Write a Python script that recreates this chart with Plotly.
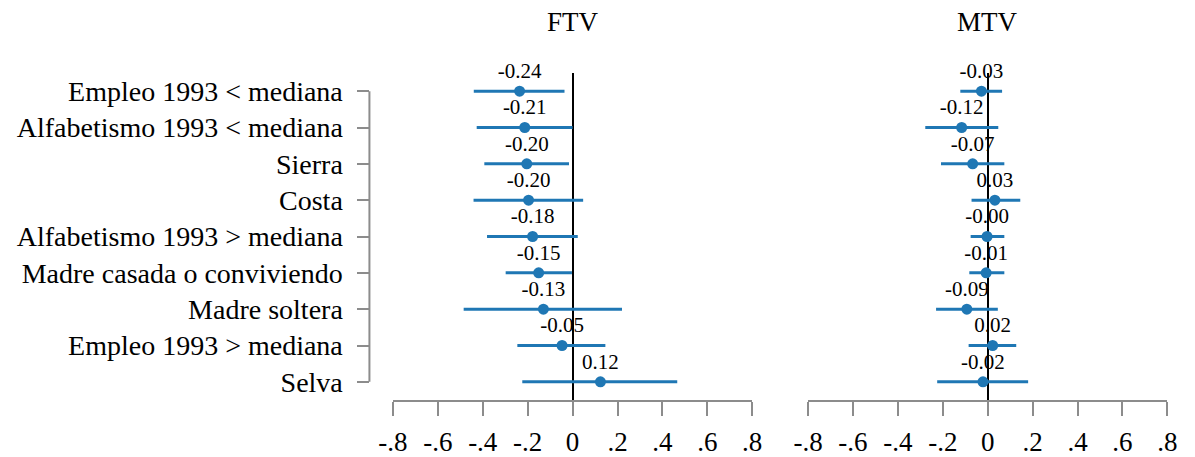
import plotly.graph_objects as go

categories = ["Empleo 1993 < mediana", "Alfabetismo 1993 < mediana", "Sierra", "Costa",
              "Alfabetismo 1993 > mediana", "Madre casada o conviviendo", "Madre soltera",
              "Empleo 1993 > mediana", "Selva"]
ftv_coef = [-0.236, -0.213, -0.204, -0.196, -0.178, -0.151, -0.130, -0.047, 0.124]
ftv_lo = [-0.440, -0.427, -0.393, -0.441, -0.381, -0.298, -0.485, -0.246, -0.224]
ftv_hi = [-0.036, 0.000, -0.016, 0.047, 0.023, -0.003, 0.220, 0.146, 0.466]
mtv_coef = [-0.028, -0.116, -0.067, 0.032, -0.003, -0.007, -0.093, 0.022, -0.021]
mtv_lo = [-0.122, -0.278, -0.208, -0.072, -0.076, -0.082, -0.230, -0.085, -0.225]
mtv_hi = [0.064, 0.047, 0.074, 0.145, 0.074, 0.074, 0.045, 0.127, 0.180]
panel_titles = ["FTV", "MTV"]
tick_vals = [-0.8, -0.6, -0.4, -0.2, 0, 0.2, 0.4, 0.6, 0.8]
tick_text = ["-.8", "-.6", "-.4", "-.2", "0", ".2", ".4", ".6", ".8"]

W, H = 1195, 457
FONT = "Liberation Serif"
BLUE = "#1f77b4"
GRAY = "#8c8c8c"
rows = list(range(1, len(categories) + 1))

fig = go.Figure()
for coef, lo, hi, xa in [(ftv_coef, ftv_lo, ftv_hi, "x"), (mtv_coef, mtv_lo, mtv_hi, "x2")]:
    fig.add_trace(go.Scatter(
        x=coef, y=rows, xaxis=xa, yaxis="y",
        mode="markers+text",
        text=[f"{v:.2f}" for v in coef],
        textposition="top center",
        textfont=dict(family=FONT, size=21, color="black"),
        marker=dict(size=11, color=BLUE),
        error_x=dict(type="data", symmetric=False,
                     array=[h - c for h, c in zip(hi, coef)],
                     arrayminus=[c - l for c, l in zip(coef, lo)],
                     thickness=3, width=0, color=BLUE),
        cliponaxis=False, showlegend=False, hoverinfo="skip",
    ))

xcommon = dict(range=[-0.8, 0.8], tickvals=tick_vals, ticktext=tick_text,
               showline=True, linecolor=GRAY, linewidth=2,
               ticks="outside", ticklen=14, tickwidth=2, tickcolor=GRAY,
               zeroline=True, zerolinecolor="black", zerolinewidth=2,
               showgrid=False, anchor="y", ticklabelstandoff=3,
               tickfont=dict(family=FONT, size=27, color="black"))

ypos = 362 / W
fig.update_layout(
    width=W, height=H,
    margin=dict(l=0, r=0, t=73, b=54),
    plot_bgcolor="white", paper_bgcolor="white",
    showlegend=False,
    xaxis=dict(domain=[386 / W, 753 / W], **xcommon),
    xaxis2=dict(domain=[810 / W, 1177 / W], **xcommon),
    yaxis=dict(range=[9.5, 0.5], tickvals=rows, ticktext=categories,
               anchor="free", position=ypos,
               ticks="outside", ticklen=12, tickwidth=2, tickcolor=GRAY,
               showline=False, showgrid=False, zeroline=False,
               ticklabelstandoff=9,
               tickfont=dict(family=FONT, size=28, color="black")),
    shapes=[dict(type="line", xref="paper", yref="y", x0=ypos, x1=ypos,
                 y0=rows[0], y1=rows[-1], line=dict(color=GRAY, width=2))],
    annotations=[
        dict(text=panel_titles[0], x=569.5 / W, y=(403 - 22) / 330, xref="paper", yref="paper",
             showarrow=False, xanchor="center", yanchor="middle",
             font=dict(family=FONT, size=27, color="black")),
        dict(text=panel_titles[1], x=993.5 / W, y=(403 - 22) / 330, xref="paper", yref="paper",
             showarrow=False, xanchor="center", yanchor="middle",
             font=dict(family=FONT, size=27, color="black")),
    ],
)

fig.write_html("out.html", config={"displayModeBar": False},
               post_script="document.body.style.margin='0';document.body.style.overflow='hidden';")
